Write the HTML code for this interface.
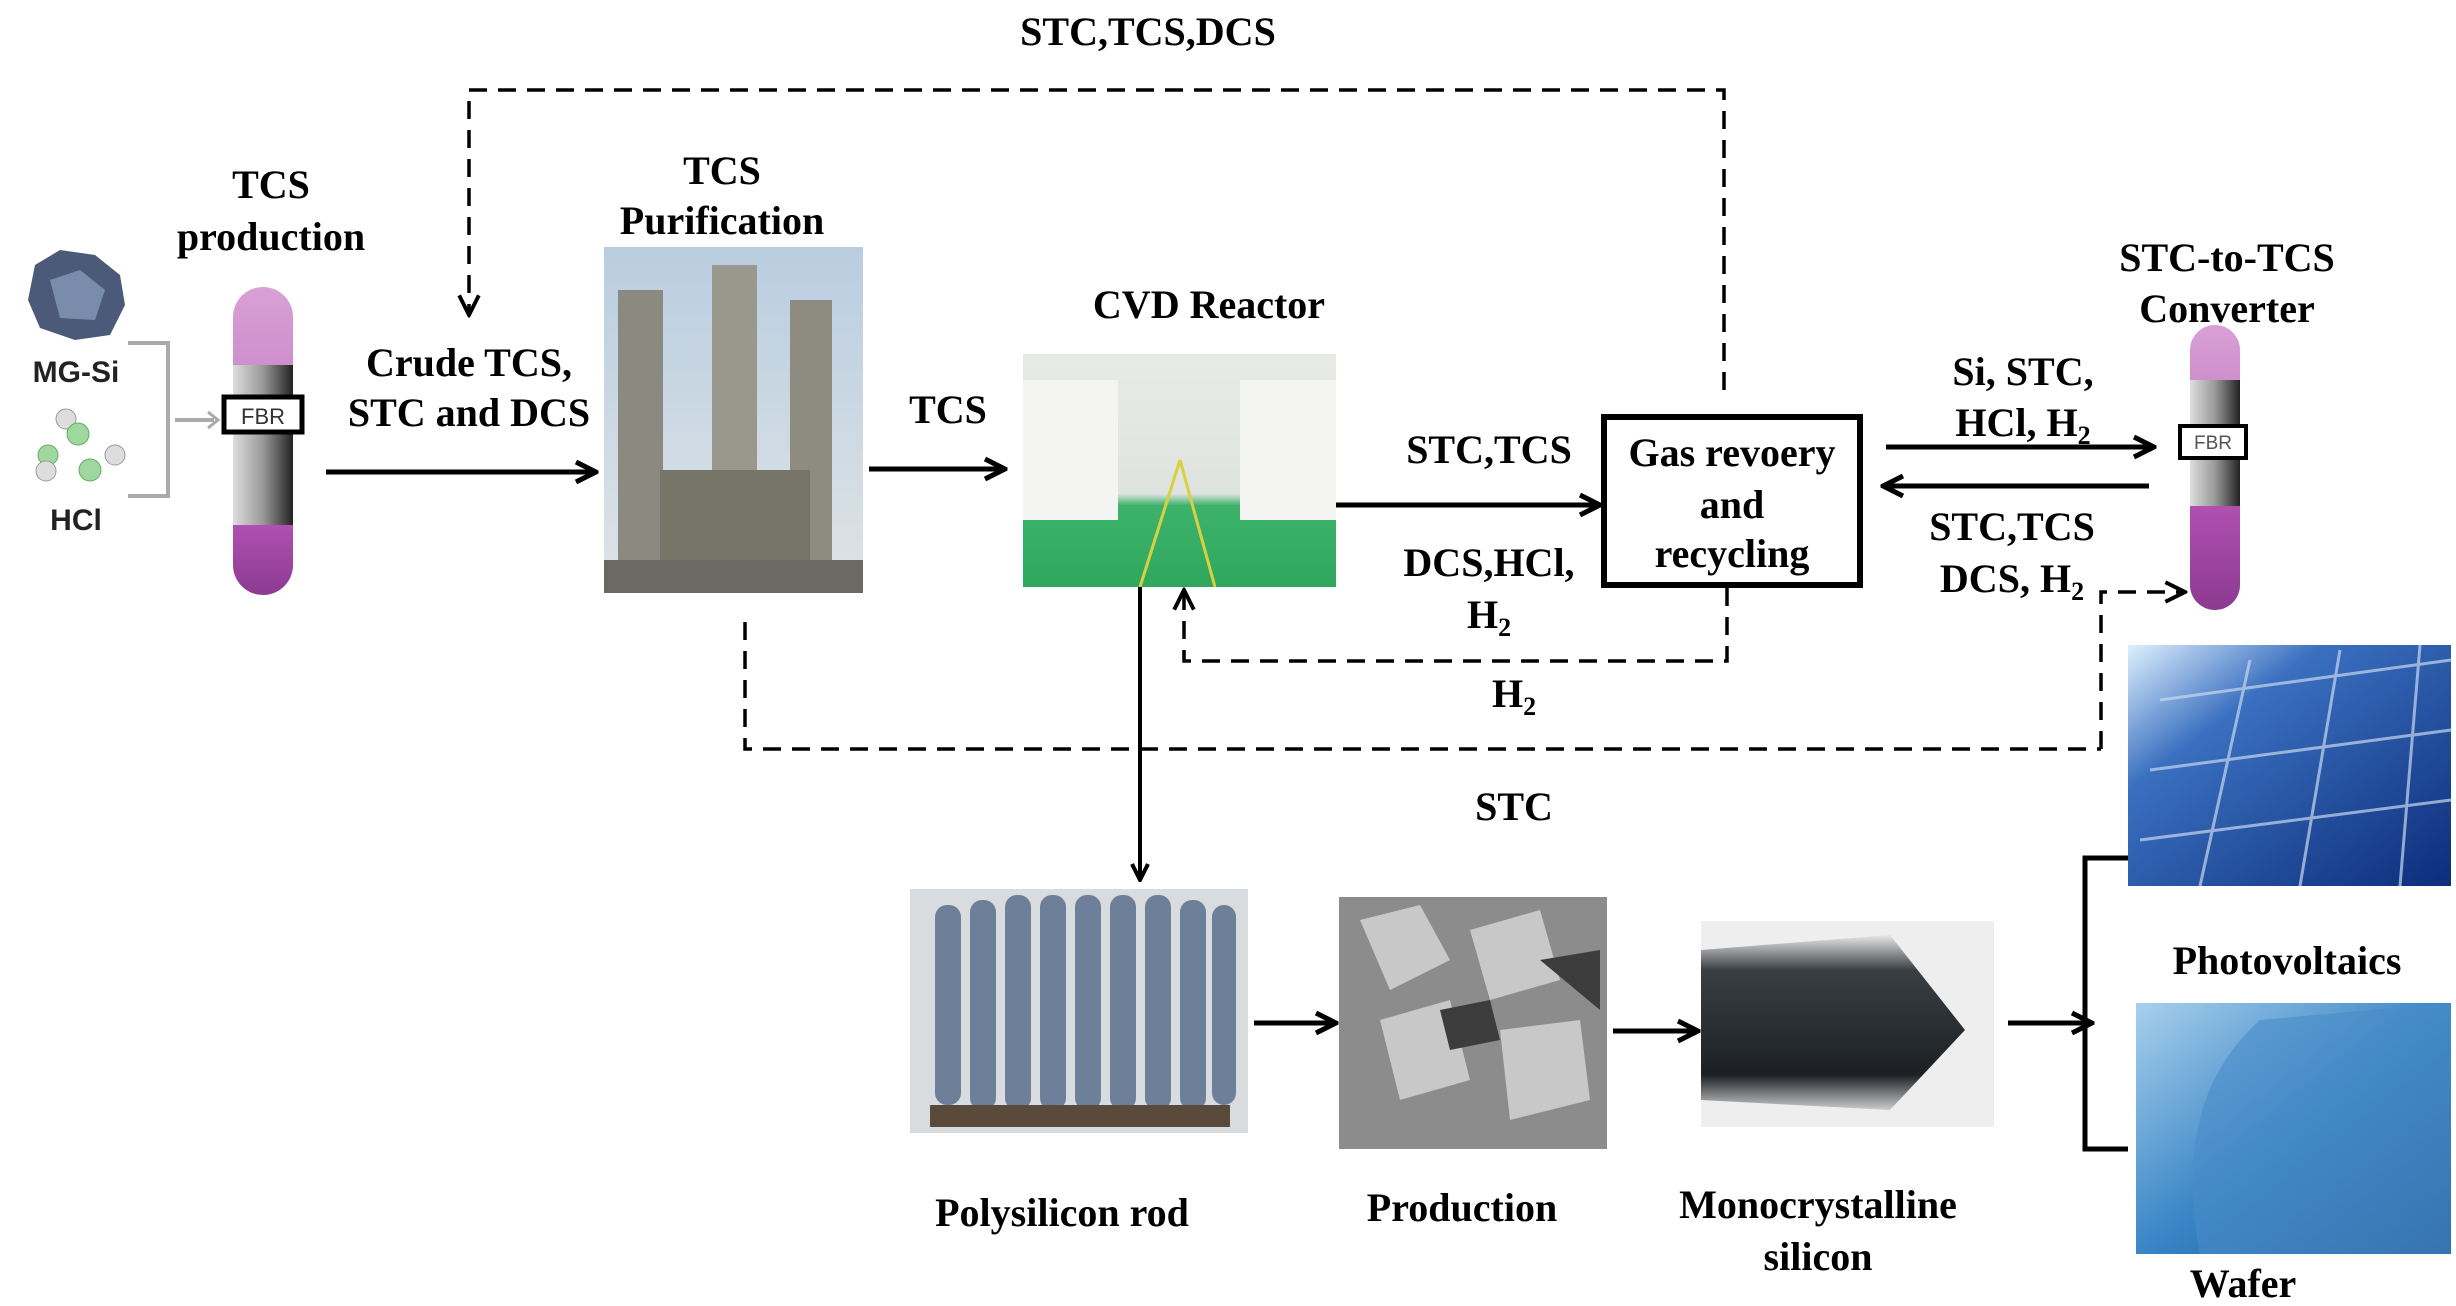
<!DOCTYPE html>
<html><head><meta charset="utf-8"><style>
html,body{margin:0;padding:0;background:#fff;}
svg{display:block}
.t{font-family:"Liberation Serif",serif;font-weight:bold;font-size:40px;fill:#000;text-anchor:middle}
.s{font-family:"Liberation Sans",sans-serif;font-weight:bold;font-size:30px;fill:#222;text-anchor:middle}
</style></head><body>
<svg width="2456" height="1306" viewBox="0 0 2456 1306" xmlns="http://www.w3.org/2000/svg">
<defs>
<marker id="a" viewBox="0 0 10 10" refX="9" refY="5" markerWidth="5" markerHeight="5" orient="auto"><path d="M1,1 L9,5 L1,9" fill="none" stroke="#000" stroke-width="2"/></marker>
<marker id="ad" viewBox="0 0 10 10" refX="9" refY="5" markerWidth="7" markerHeight="7" orient="auto"><path d="M1,1 L9,5 L1,9" fill="none" stroke="#000" stroke-width="1.6"/></marker>
<linearGradient id="grey" x1="0" x2="1"><stop offset="0" stop-color="#ddd"/><stop offset=".5" stop-color="#999"/><stop offset="1" stop-color="#222"/></linearGradient>
<linearGradient id="pink" x1="0" y1="0" x2="0" y2="1"><stop offset="0" stop-color="#d9a0d6"/><stop offset="1" stop-color="#cf8fcc"/></linearGradient>
<linearGradient id="purp" x1="0" y1="0" x2="0" y2="1"><stop offset="0" stop-color="#b050b0"/><stop offset="1" stop-color="#8c3a92"/></linearGradient>
<linearGradient id="sky" x1="0" y1="0" x2="0" y2="1"><stop offset="0" stop-color="#b9cde0"/><stop offset="1" stop-color="#dfe4e6"/></linearGradient>
<linearGradient id="cvd" x1="0" y1="0" x2="0" y2="1"><stop offset="0" stop-color="#e8eae6"/><stop offset=".6" stop-color="#dfe3e0"/><stop offset=".65" stop-color="#3cb26a"/><stop offset="1" stop-color="#2fa85e"/></linearGradient>
<linearGradient id="pv" x1="0" y1="0" x2="1" y2="1"><stop offset="0" stop-color="#dff0ff"/><stop offset=".3" stop-color="#3a70c0"/><stop offset="1" stop-color="#0c2d7a"/></linearGradient>
<linearGradient id="wf" x1="0" y1="0" x2="1" y2="1"><stop offset="0" stop-color="#a8d0ec"/><stop offset=".5" stop-color="#3a86c6"/><stop offset="1" stop-color="#1a4f8e"/></linearGradient>
<linearGradient id="mono" x1="0" y1="0" x2="0" y2="1"><stop offset="0" stop-color="#e8e8e8"/><stop offset=".2" stop-color="#3a3f44"/><stop offset=".8" stop-color="#1c2024"/><stop offset="1" stop-color="#ccc"/></linearGradient>
</defs>

<text class="t" x="1148" y="45">STC,TCS,DCS</text>
<polyline points="1724,390 1724,90 469,90 469,315" fill="none" stroke="#000" stroke-width="3.5" stroke-dasharray="18,11" marker-end="url(#ad)"/>

<g>
<path d="M35,265 L60,250 L95,255 L120,275 L125,305 L110,335 L75,340 L40,328 L28,300 Z" fill="#4a5a78"/>
<path d="M50,280 L80,270 L105,290 L95,320 L60,318 Z" fill="#7a8cab"/>
<text class="s" x="76" y="382">MG-Si</text>
<circle cx="66" cy="419" r="10" fill="#ddd" stroke="#999"/><circle cx="78" cy="434" r="11" fill="#9fd89f" stroke="#6a6"/>
<circle cx="48" cy="455" r="10" fill="#9fd89f" stroke="#6a6"/><circle cx="46" cy="471" r="10" fill="#ddd" stroke="#999"/>
<circle cx="90" cy="470" r="11" fill="#9fd89f" stroke="#6a6"/><circle cx="115" cy="455" r="10" fill="#ddd" stroke="#999"/>
<text class="s" x="76" y="530">HCl</text>
<polyline points="128,343 168,343 168,496 128,496" fill="none" stroke="#aaa" stroke-width="4"/>
<line x1="175" y1="420" x2="214" y2="420" stroke="#aaa" stroke-width="4"/>
<path d="M208,412 L218,420 L208,428" fill="none" stroke="#aaa" stroke-width="3"/>
</g>

<text class="t" x="271" y="198">TCS</text>
<text class="t" x="271" y="250">production</text>
<path d="M233,365 L233,317 A30,30 0 0 1 293,317 L293,365 Z" fill="url(#pink)"/>
<rect x="233" y="365" width="60" height="160" fill="url(#grey)"/>
<path d="M233,525 L293,525 L293,565 A30,30 0 0 1 233,565 Z" fill="url(#purp)"/>
<rect x="224" y="397" width="78" height="35" fill="#fff" stroke="#000" stroke-width="5"/>
<text x="263" y="424" style="font-family:'Liberation Sans',sans-serif;font-size:22px;fill:#333;text-anchor:middle">FBR</text>

<text class="t" x="469" y="376">Crude TCS,</text>
<text class="t" x="469" y="426">STC and DCS</text>
<line x1="326" y1="472" x2="596" y2="472" stroke="#000" stroke-width="5" marker-end="url(#a)"/>

<text class="t" x="722" y="184">TCS</text>
<text class="t" x="722" y="234">Purification</text>
<rect x="604" y="247" width="259" height="346" fill="url(#sky)"/>
<rect x="618" y="290" width="45" height="303" fill="#8a8a80"/>
<rect x="712" y="265" width="45" height="328" fill="#9a988c"/>
<rect x="790" y="300" width="42" height="293" fill="#8e8c80"/>
<rect x="660" y="470" width="150" height="123" fill="#777468"/>
<rect x="604" y="560" width="259" height="33" fill="#6a6a62"/>

<text class="t" x="948" y="423">TCS</text>
<line x1="869" y1="469" x2="1005" y2="469" stroke="#000" stroke-width="5" marker-end="url(#a)"/>

<text class="t" x="1209" y="318">CVD Reactor</text>
<rect x="1023" y="354" width="313" height="233" fill="url(#cvd)"/>
<rect x="1023" y="380" width="95" height="140" fill="#f4f4f2"/>
<rect x="1240" y="380" width="96" height="140" fill="#f4f4f2"/>
<path d="M1180,460 L1140,587 M1180,460 L1215,587" stroke="#d8d040" stroke-width="3"/>

<text class="t" x="1489" y="463">STC,TCS</text>
<text class="t" x="1489" y="576">DCS,HCl,</text>
<text class="t" x="1489" y="628">H<tspan font-size="26" dy="8">2</tspan></text>
<line x1="1336" y1="505" x2="1600" y2="505" stroke="#000" stroke-width="5" marker-end="url(#a)"/>

<rect x="1604" y="417" width="256" height="168" fill="#fff" stroke="#000" stroke-width="6"/>
<text class="t" x="1732" y="466">Gas revoery</text>
<text class="t" x="1732" y="518">and</text>
<text class="t" x="1732" y="567">recycling</text>

<polyline points="1727,588 1727,661 1184,661 1184,590" fill="none" stroke="#000" stroke-width="3.5" stroke-dasharray="18,11" marker-end="url(#ad)"/>
<text class="t" x="1514" y="707">H<tspan font-size="26" dy="8">2</tspan></text>

<text class="t" x="2023" y="385">Si, STC,</text>
<text class="t" x="2023" y="436">HCl, H<tspan font-size="26" dy="8">2</tspan></text>
<line x1="1886" y1="447" x2="2154" y2="447" stroke="#000" stroke-width="5" marker-end="url(#a)"/>
<line x1="2149" y1="486" x2="1883" y2="486" stroke="#000" stroke-width="5" marker-end="url(#a)"/>
<text class="t" x="2012" y="540">STC,TCS</text>
<text class="t" x="2012" y="592">DCS, H<tspan font-size="26" dy="8">2</tspan></text>
<polyline points="2101,749 2101,592 2185,592" fill="none" stroke="#000" stroke-width="3.5" stroke-dasharray="18,11" marker-end="url(#ad)"/>

<text class="t" x="2227" y="271">STC-to-TCS</text>
<text class="t" x="2227" y="322">Converter</text>
<path d="M2190,380 L2190,350 A24,24 0 0 1 2240,350 L2240,380 Z" fill="url(#pink)"/>
<rect x="2190" y="380" width="50" height="126" fill="url(#grey)"/>
<path d="M2190,506 L2240,506 L2240,585 A24,24 0 0 1 2190,585 Z" fill="url(#purp)"/>
<rect x="2180" y="426" width="66" height="32" fill="#fff" stroke="#000" stroke-width="4"/>
<text x="2213" y="449" style="font-family:'Liberation Sans',sans-serif;font-size:19px;fill:#555;text-anchor:middle">FBR</text>

<polyline points="745,622 745,749 2101,749" fill="none" stroke="#000" stroke-width="3.5" stroke-dasharray="18,11"/>
<text class="t" x="1514" y="820">STC</text>

<line x1="1140" y1="587" x2="1140" y2="880" stroke="#000" stroke-width="4" marker-end="url(#a)"/>

<rect x="910" y="889" width="338" height="244" fill="#d8dcdf"/>
<g fill="#6e7f99">
<rect x="935" y="905" width="26" height="200" rx="12"/><rect x="970" y="900" width="26" height="210" rx="12"/><rect x="1005" y="895" width="26" height="215" rx="12"/><rect x="1040" y="895" width="26" height="215" rx="12"/><rect x="1075" y="895" width="26" height="215" rx="12"/><rect x="1110" y="895" width="26" height="215" rx="12"/><rect x="1145" y="895" width="26" height="215" rx="12"/><rect x="1180" y="900" width="26" height="210" rx="12"/><rect x="1212" y="905" width="24" height="200" rx="12"/>
</g>
<rect x="930" y="1105" width="300" height="22" fill="#5a4a3c"/>
<text class="t" x="1062" y="1226">Polysilicon  rod</text>

<line x1="1254" y1="1023" x2="1336" y2="1023" stroke="#000" stroke-width="5" marker-end="url(#a)"/>

<rect x="1339" y="897" width="268" height="252" fill="#8c8c8c"/>
<path d="M1360,920 L1420,905 L1450,960 L1390,990 Z M1470,930 L1540,910 L1560,980 L1490,1000 Z M1380,1020 L1450,1000 L1470,1080 L1400,1100 Z M1500,1030 L1580,1020 L1590,1100 L1510,1120 Z" fill="#c8c8c8"/>
<path d="M1440,1010 L1490,1000 L1500,1040 L1450,1050 Z M1540,960 L1600,950 L1600,1010 Z" fill="#3c3c3c"/>
<text class="t" x="1462" y="1221">Production</text>

<line x1="1613" y1="1031" x2="1698" y2="1031" stroke="#000" stroke-width="5" marker-end="url(#a)"/>

<rect x="1701" y="921" width="293" height="206" fill="#eee"/>
<path d="M1701,950 L1890,935 L1965,1030 L1890,1110 L1701,1100 Z" fill="url(#mono)"/>
<text class="t" x="1818" y="1218">Monocrystalline</text>
<text class="t" x="1818" y="1270">silicon</text>

<line x1="2008" y1="1023" x2="2092" y2="1023" stroke="#000" stroke-width="5" marker-end="url(#a)"/>
<polyline points="2128,858 2085,858 2085,1149 2128,1149" fill="none" stroke="#000" stroke-width="5"/>

<rect x="2128" y="645" width="323" height="241" fill="url(#pv)"/>
<g stroke="#c8d8ee" stroke-width="3" opacity=".7">
<line x1="2160" y1="700" x2="2451" y2="660"/><line x1="2150" y1="770" x2="2451" y2="730"/><line x1="2140" y1="840" x2="2451" y2="800"/>
<line x1="2250" y1="660" x2="2200" y2="886"/><line x1="2340" y1="650" x2="2300" y2="886"/><line x1="2420" y1="645" x2="2400" y2="886"/>
</g>
<text class="t" x="2287" y="974">Photovoltaics</text>
<rect x="2136" y="1003" width="315" height="251" fill="url(#wf)"/>
<path d="M2200,1254 Q2170,1100 2260,1020 L2451,1003 L2451,1254 Z" fill="#4a8cc8" opacity=".6"/>
<text class="t" x="2243" y="1297">Wafer</text>
</svg>
</body></html>
